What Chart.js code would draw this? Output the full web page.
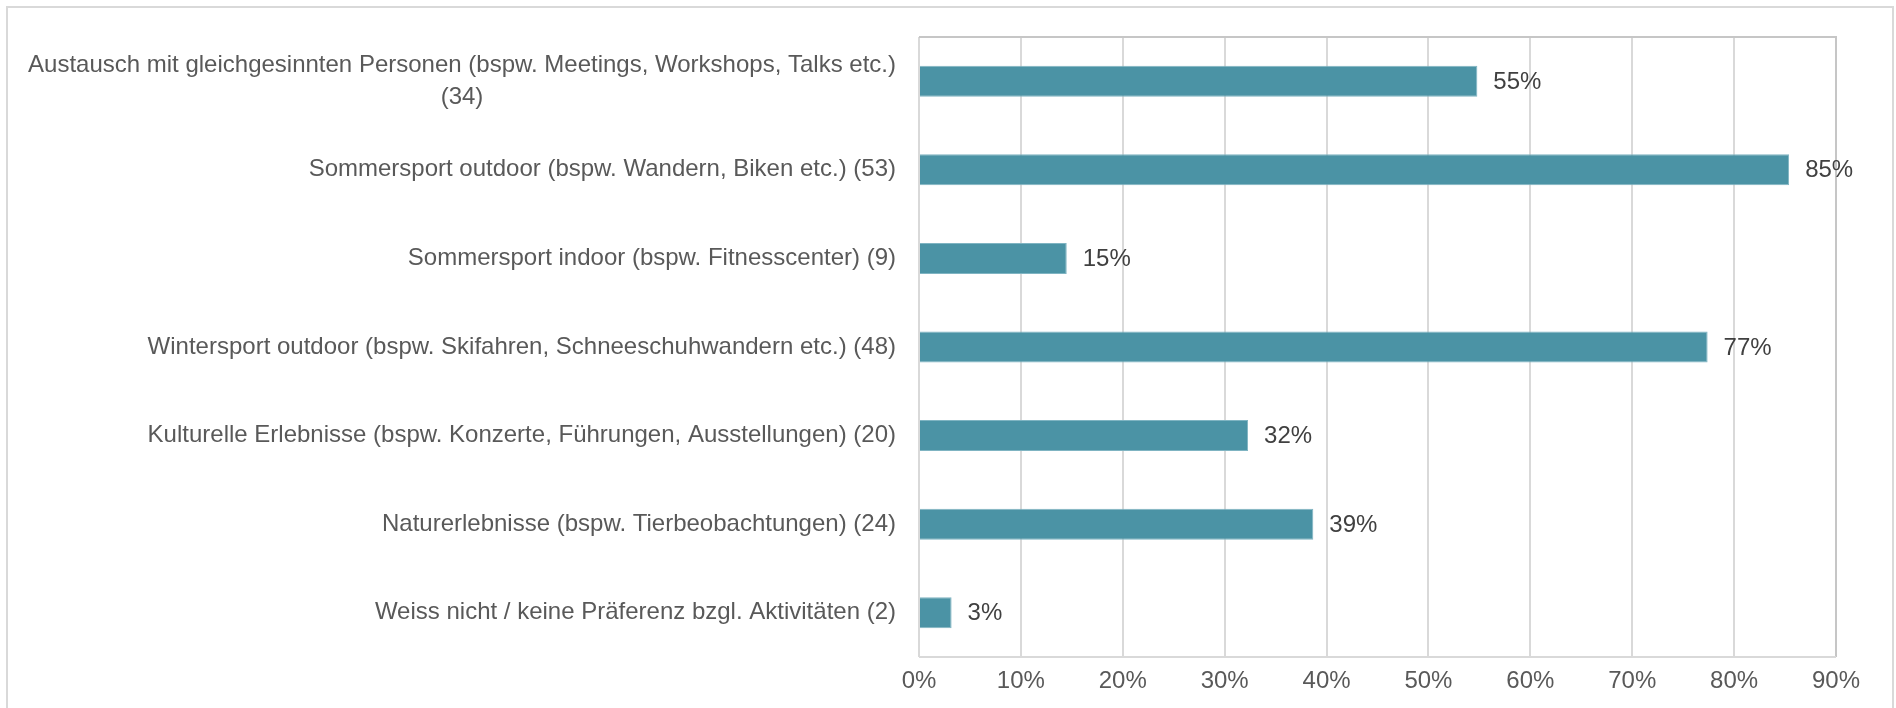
<!DOCTYPE html>
<html>
<head>
<meta charset="utf-8">
<script src="https://cdn.jsdelivr.net/npm/chart.js@4"></script>
<style>
  html, body { margin: 0; padding: 0; background: #fff; }
  #wrap { width: 1896px; height: 708px; position: relative; }
</style>
</head>
<body>
<div id="wrap"><canvas id="c" width="1896" height="708"></canvas></div>
<script>
// Kategorien (Beschriftung der Balken, Zeilen als Array)
const categories = [
  ['Austausch mit gleichgesinnten Personen (bspw. Meetings, Workshops, Talks etc.)', '(34)'],
  ['Sommersport outdoor (bspw. Wandern, Biken etc.) (53)'],
  ['Sommersport indoor (bspw. Fitnesscenter) (9)'],
  ['Wintersport outdoor (bspw. Skifahren, Schneeschuhwandern etc.) (48)'],
  ['Kulturelle Erlebnisse (bspw. Konzerte, Führungen, Ausstellungen) (20)'],
  ['Naturerlebnisse (bspw. Tierbeobachtungen) (24)'],
  ['Weiss nicht / keine Präferenz bzgl. Aktivitäten (2)']
];
// Anteile in %
const shares = [54.8, 85.4, 14.5, 77.4, 32.3, 38.7, 3.2];
// Achsenticks
const xTicks = [0, 10, 20, 30, 40, 50, 60, 70, 80, 90];

const FONT = '"Liberation Sans", Arial, Helvetica, sans-serif';
const labelGray = '#595959';
const valueGray = '#404040';

// Rahmen aussen + Plotrahmen
const framePlugin = {
  id: 'frame',
  beforeDraw(chart) {
    const ctx = chart.ctx;
    ctx.save();
    ctx.fillStyle = '#fff';
    ctx.fillRect(0, 0, chart.width, chart.height);
    ctx.strokeStyle = '#d9d9d9';
    ctx.lineWidth = 2;
    ctx.strokeRect(7, 7, 1886, 760);
    ctx.restore();
  },
  afterDatasetsDraw(chart) {
    const { ctx, chartArea: a } = chart;
    ctx.save();
    ctx.strokeStyle = '#c6c6c6';
    ctx.lineWidth = 2;
    ctx.beginPath();
    ctx.moveTo(a.left, a.top);
    ctx.lineTo(a.right, a.top);
    ctx.lineTo(a.right, a.bottom);
    ctx.stroke();
    ctx.strokeStyle = '#d9d9d9';
    ctx.beginPath();
    ctx.moveTo(a.left, a.bottom);
    ctx.lineTo(a.right, a.bottom);
    ctx.stroke();
    ctx.restore();
  }
};

// Kategorienbeschriftung links (rechtsbündig, Mehrzeiler zentriert)
const catLabelPlugin = {
  id: 'catLabels',
  afterDraw(chart) {
    const ctx = chart.ctx;
    const y = chart.scales.y;
    const xRight = chart.chartArea.left - 23;
    const lh = 32;
    ctx.save();
    ctx.font = '24px ' + FONT;
    ctx.fillStyle = labelGray;
    ctx.textBaseline = 'middle';
    ctx.textAlign = 'center';
    categories.forEach((lines, i) => {
      const cy = y.getPixelForValue(i);
      const w = Math.max(...lines.map(l => ctx.measureText(l).width));
      const cx = xRight - w / 2;
      const y0 = cy - (lines.length - 1) * lh / 2;
      lines.forEach((l, j) => ctx.fillText(l, cx, y0 + j * lh));
    });
    ctx.restore();
  }
};

// Prozentwerte rechts neben den Balken
const valueLabelPlugin = {
  id: 'valueLabels',
  afterDatasetsDraw(chart) {
    const ctx = chart.ctx;
    const meta = chart.getDatasetMeta(0);
    ctx.save();
    ctx.font = '24px ' + FONT;
    ctx.fillStyle = valueGray;
    ctx.textBaseline = 'middle';
    ctx.textAlign = 'left';
    meta.data.forEach((bar, i) => {
      ctx.fillText(Math.round(shares[i]) + '%', bar.x + 16, bar.y + 1);
    });
    ctx.restore();
  }
};

new Chart(document.getElementById('c'), {
  type: 'bar',
  data: {
    labels: categories.map(l => l.join(' ')),
    datasets: [{
      data: shares,
      backgroundColor: '#4b93a5',
      borderColor: '#7fb4c2',
      borderWidth: 1,
      categoryPercentage: 1,
      barPercentage: 0.35
    }]
  },
  options: {
    indexAxis: 'y',
    responsive: false,
    animation: false,
    layout: { padding: { top: 37, right: 60, left: 0, bottom: 0 } },
    plugins: {
      legend: { display: false },
      tooltip: { enabled: false }
    },
    scales: {
      x: {
        min: xTicks[0],
        max: xTicks[xTicks.length - 1],
        afterBuildTicks: (s) => { s.ticks = xTicks.map(v => ({ value: v })); },
        afterFit: (s) => { s.height = 51; },
        grid: { color: '#d9d9d9', lineWidth: 2, drawTicks: false },
        border: { display: false },
        ticks: {
          padding: 10,
          color: labelGray,
          font: { family: FONT, size: 24 },
          callback: (v) => v + '%'
        }
      },
      y: {
        afterFit: (s) => { s.width = 919; },
        grid: { display: false },
        border: { display: false },
        ticks: { display: false }
      }
    }
  },
  plugins: [framePlugin, catLabelPlugin, valueLabelPlugin]
});
</script>
</body>
</html>
